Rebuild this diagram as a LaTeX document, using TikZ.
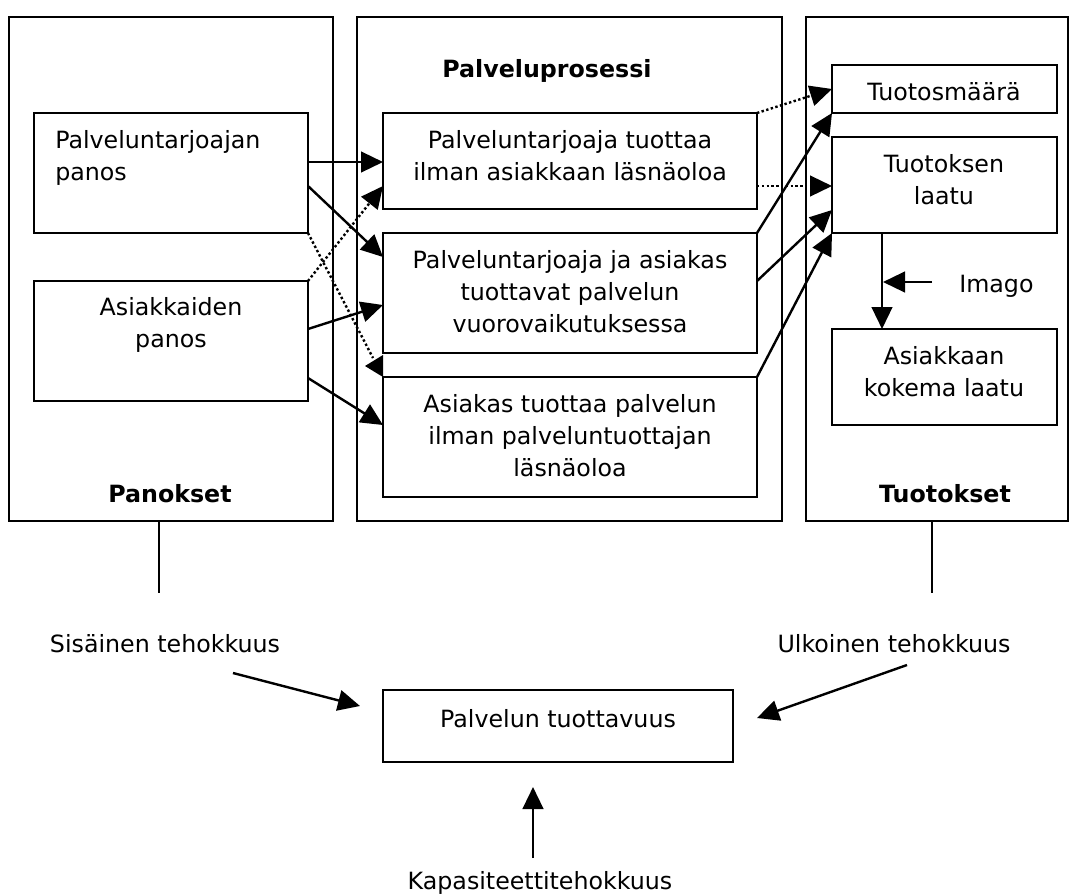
\documentclass[tikz,border=0pt]{standalone}
\usepackage{fontspec}
\setmainfont{DejaVu Sans}
\usetikzlibrary{arrows.meta,calc,fit}
\begin{document}
\begin{tikzpicture}[x=0.75pt,y=-0.75pt,
  outer/.style={draw, line width=1.1pt, inner sep=0pt, outer sep=0pt},
  inner/.style={draw, line width=1.6pt, inner sep=0pt, outer sep=0pt},
  txt/.style={font=\fontsize{17.8}{24}\selectfont, align=center, inner sep=0pt, anchor=base},
  ttl/.style={font=\fontsize{17.8}{24}\selectfont\bfseries, inner sep=0pt, anchor=base},
  arr/.style={line width=1.8pt, -{Triangle[length=16.5pt,width=15.5pt]}},
  dotline/.style={line width=1.8pt, dash pattern=on 1.8pt off 1.8pt},
  dotarr/.style={arr, dotline},
  thinline/.style={line width=0.8pt}]
\useasboundingbox (0,0) rectangle (1070,893);

% three column frames
\node[outer, fit={(9,17)(333,521)}] (L) {};
\node[outer, fit={(357,17)(782,521)}] (M) {};
\node[outer, fit={(806,17)(1068,521)}] (R) {};
\node[ttl] (Lt) at (170,502) {Panokset};
\node[ttl] (Mt) at (547,77) {Palveluprosessi};
\node[ttl] (Rt) at (945,502) {Tuotokset};

% inputs (y of a text node = baseline of its last line)
\node[inner, fit={(34,113)(308,233)}] (pin) {};
\node[txt, align=left, anchor=base west] (pinT) at (55,180) {Palveluntarjoajan\\panos};
\node[inner, fit={(34,281)(308,401)}] (pas) {};
\node[txt] (pasT) at (171,347) {Asiakkaiden\\panos};

% process
\node[inner, fit={(383,113)(757,209)}] (b1) {};
\node[txt] (b1T) at (570,180) {Palveluntarjoaja tuottaa\\ilman asiakkaan läsnäoloa};
\node[inner, fit={(383,233)(757,353)}] (b2) {};
\node[txt] (b2T) at (570,332) {Palveluntarjoaja ja asiakas\\tuottavat palvelun\\vuorovaikutuksessa};
\node[inner, fit={(383,377)(757,497)}] (b3) {};
\node[txt] (b3T) at (570,476) {Asiakas tuottaa palvelun\\ilman palveluntuottajan\\läsnäoloa};

% outputs
\node[inner, fit={(832,65)(1057,113)}] (t1) {};
\node[txt] (t1T) at (944,100) {Tuotosmäärä};
\node[inner, fit={(832,137)(1057,233)}] (t2) {};
\node[txt] (t2T) at (944,204) {Tuotoksen\\laatu};
\node[inner, fit={(832,329)(1057,425)}] (t3) {};
\node[txt] (t3T) at (944,396) {Asiakkaan\\kokema laatu};
\node[txt, anchor=base west] (imago) at (959,292) {Imago};

% productivity
\node[outer, line width=1.3pt, fit={(383,690)(733,762)}] (pt) {};
\node[txt] (ptT) at (558,727) {Palvelun tuottavuus};
\node[txt] (sis) at (165,652) {Sisäinen tehokkuus};
\node[txt] (ulk) at (894,652) {Ulkoinen tehokkuus};
\node[txt] (kap) at (540,889) {Kapasiteettitehokkuus};

% inputs -> process
\draw[arr] ($(pin.north east)+(0,49)$) -- ($(b1.north west)+(0,49)$);
\draw[arr] ($(pin.north east)+(0,73)$) -- ($(b2.north west)+(0,24)$);
\draw[dotarr] (pas.north east) -- ($(b1.north west)+(0,73)$);
\draw[arr] ($(pas.north east)+(0,48)$) -- ($(b2.north west)+(0,72)$);
\draw[arr] ($(pas.north east)+(0,97)$) -- ($(b3.north west)+(0,48)$);
\coordinate (dotEnd) at ($(b3.north west)+(-10,-19)$);
\draw[dotline] (pin.south east) -- (dotEnd);
\fill ($(b3.north west)+(-18,-11)$) -- ($(b3.north west)+(0,-22)$) -- (b3.north west) -- cycle;

% process -> outputs
\draw[dotarr] (b1.north east) -- (t1.west);
\draw[dotarr] ($(b1.north east)+(0,73)$) -- ($(t2.north west)+(0,49)$);
\draw[arr] (b2.north east) -- (t1.south west);
\draw[arr] ($(b2.north east)+(0,48)$) -- ($(t2.north west)+(0,73)$);
\draw[arr] (b3.north east) -- (t2.south west);
\draw[arr] ($(t2.south west)+(50,0)$) -- ($(t3.north west)+(50,0)$);
\coordinate (imS) at (932,282);
\coordinate (imE) at (883,282);
\draw[arr] (imS) -- (imE);

% efficiency links
\coordinate (lDown) at (159,593);
\coordinate (rDown) at (932,593);
\draw[thinline] ($(L.south west)+(150,0)$) -- (lDown);
\draw[thinline] ($(R.south west)+(126,0)$) -- (rDown);
\coordinate (sisS) at (233,673);
\coordinate (sisE) at (360,706);
\coordinate (ulkS) at (907,665);
\coordinate (ulkE) at (757,718);
\coordinate (kapS) at (533,858);
\coordinate (kapE) at (533,787);
\draw[arr] (sisS) -- (sisE);
\draw[arr] (ulkS) -- (ulkE);
\draw[arr] (kapS) -- (kapE);
\end{tikzpicture}
\end{document}
